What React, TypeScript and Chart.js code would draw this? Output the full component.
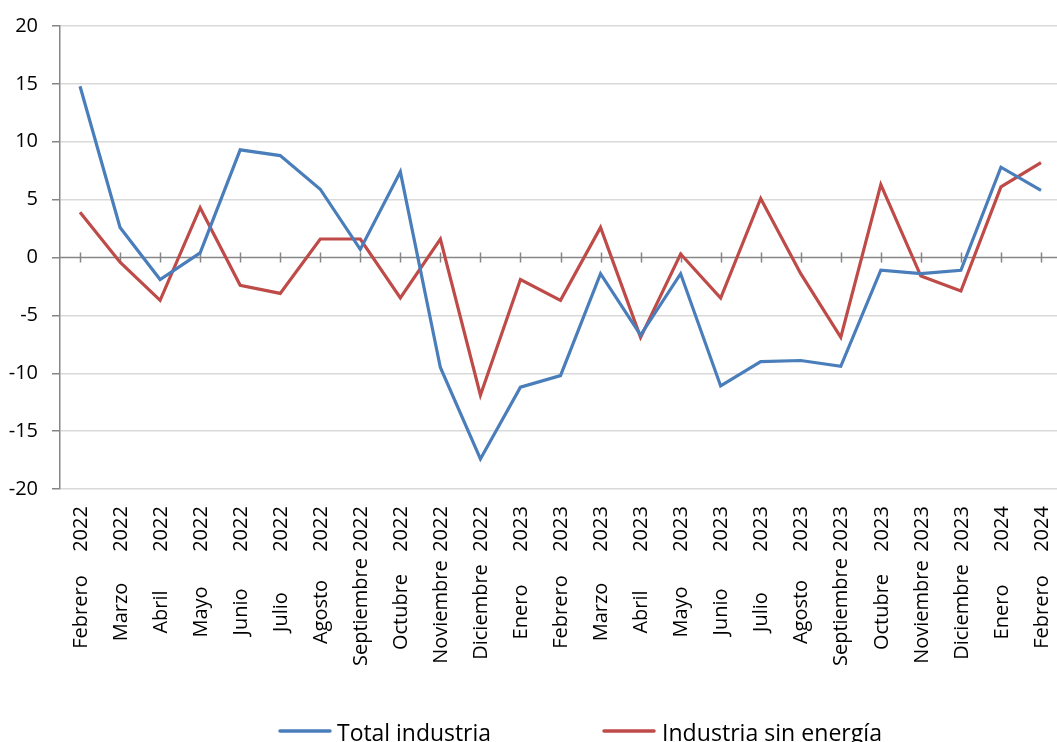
import React, { useEffect, useRef } from "react";
import { Chart, registerables } from "chart.js";

Chart.register(...registerables);

const months = [
  "Febrero", "Marzo", "Abril", "Mayo", "Junio", "Julio", "Agosto", "Septiembre", "Octubre", "Noviembre", "Diciembre",
  "Enero", "Febrero", "Marzo", "Abril", "Mayo", "Junio", "Julio", "Agosto", "Septiembre", "Octubre", "Noviembre", "Diciembre",
  "Enero", "Febrero",
];
const years = [
  "2022", "2022", "2022", "2022", "2022", "2022", "2022", "2022", "2022", "2022", "2022",
  "2023", "2023", "2023", "2023", "2023", "2023", "2023", "2023", "2023", "2023", "2023", "2023",
  "2024", "2024",
];
const totalIndustria = [
  14.8, 2.6, -1.9, 0.4, 9.3, 8.8, 5.9, 0.7, 7.4, -9.5, -17.4,
  -11.2, -10.2, -1.4, -6.7, -1.4, -11.1, -9.0, -8.9, -9.4, -1.1, -1.4, -1.1,
  7.8, 5.8,
];
const industriaSinEnergia = [
  3.9, -0.4, -3.7, 4.3, -2.4, -3.1, 1.6, 1.6, -3.5, 1.6, -11.9,
  -1.9, -3.7, 2.6, -6.9, 0.3, -3.5, 5.1, -1.4, -6.9, 6.3, -1.6, -2.9,
  6.1, 8.2,
];
const seriesNames = ["Total industria", "Industria sin energía"];
const seriesColors = ["#4A7EBB", "#BE4B48"];
const yTicks = { min: -20, max: 20, step: 5 };

const FONT = '"Open Sans", sans-serif';

const labelPlugin = {
  id: "customLabels",
  beforeDatasetsDraw(chart: any) {
    const { ctx } = chart;
    const xs = chart.scales.x;
    const ys = chart.scales.y;
    const y0 = ys.getPixelForValue(0);
    ctx.save();
    ctx.strokeStyle = "#868686";
    ctx.lineWidth = 1.5;
    ctx.beginPath();
    ctx.moveTo(chart.chartArea.left, y0);
    ctx.lineTo(chart.chartArea.right, y0);
    for (let i = 0; i < months.length; i++) {
      const x = Math.round(xs.getPixelForValue(i)) + 0.5;
      ctx.moveTo(x, y0 - 5);
      ctx.lineTo(x, y0 + 5);
    }
    ctx.stroke();
    ctx.restore();
  },
  afterDraw(chart: any) {
    const { ctx } = chart;
    const xs = chart.scales.x;
    ctx.save();
    ctx.fillStyle = "#000";
    ctx.font = `20px ${FONT}`;
    ctx.textAlign = "center";
    ctx.textBaseline = "middle";
    for (let i = 0; i < months.length; i++) {
      const x = xs.getPixelForValue(i) + 1;
      ctx.save();
      ctx.translate(x, 529);
      ctx.rotate(-Math.PI / 2);
      ctx.fillText(years[i], 0, 0);
      ctx.restore();
      ctx.save();
      ctx.translate(x, 612);
      ctx.rotate(-Math.PI / 2);
      ctx.fillText(months[i], 0, 0);
      ctx.restore();
    }
    // legend
    const items = [
      { x0: 280, x1: 330, tx: 337, tw: 154 },
      { x0: 604, x1: 654, tx: 662, tw: 220 },
    ];
    const ly = 731;
    items.forEach((it, k) => {
      ctx.strokeStyle = seriesColors[k];
      ctx.lineWidth = 3.5;
      ctx.lineCap = "round";
      ctx.beginPath();
      ctx.moveTo(it.x0, ly);
      ctx.lineTo(it.x1, ly);
      ctx.stroke();
      ctx.font = `24px ${FONT}`;
      ctx.textAlign = "left";
      ctx.textBaseline = "alphabetic";
      const w = ctx.measureText(seriesNames[k]).width;
      ctx.save();
      ctx.translate(it.tx, 741);
      ctx.scale(it.tw / w, 1);
      ctx.fillStyle = "#000";
      ctx.fillText(seriesNames[k], 0, 0);
      ctx.restore();
    });
    ctx.restore();
  },
};

export default function App() {
  const ref = useRef<HTMLCanvasElement | null>(null);
  useEffect(() => {
    if (!ref.current) return;
    const chart = new Chart(ref.current, {
      type: "line",
      data: {
        labels: months.map((m, i) => `${m} ${years[i]}`),
        datasets: [
          {
            label: seriesNames[0],
            data: totalIndustria,
            borderColor: seriesColors[0],
            backgroundColor: seriesColors[0],
            borderWidth: 3.2,
            pointRadius: 0,
            tension: 0,
          },
          {
            label: seriesNames[1],
            data: industriaSinEnergia,
            borderColor: seriesColors[1],
            backgroundColor: seriesColors[1],
            borderWidth: 3.2,
            pointRadius: 0,
            tension: 0,
          },
        ],
      },
      options: {
        responsive: false,
        animation: false,
        layout: { padding: { top: 24, right: 0, left: 0, bottom: 0 } },
        plugins: { legend: { display: false }, tooltip: { enabled: false } },
        scales: {
          x: {
            offset: true,
            grid: { display: false, drawTicks: false },
            border: { display: false },
            ticks: { display: false },
            afterFit: (s: any) => {
              s.height = 253;
            },
          },
          y: {
            min: yTicks.min,
            max: yTicks.max,
            ticks: {
              stepSize: yTicks.step,
              color: "#000",
              font: { family: FONT, size: 20 },
              padding: 14,
            },
            grid: {
              color: (c: any) => (c.tick && c.tick.value === 0 ? "rgba(0,0,0,0)" : "#D9D9D9"),
              lineWidth: 1.5,
              tickLength: 8,
              tickColor: "#868686",
            },
            border: { display: true, color: "#868686", width: 1.5 },
            afterFit: (s: any) => {
              s.width = 60;
            },
          },
        },
      },
      plugins: [labelPlugin],
    });
    return () => chart.destroy();
  }, []);
  return (
    <div style={{ position: "fixed", left: 0, top: 0, width: 1057, height: 742, overflow: "hidden", background: "#fff" }}>
      <canvas ref={ref} width={1061} height={742} style={{ display: "block" }} />
    </div>
  );
}
